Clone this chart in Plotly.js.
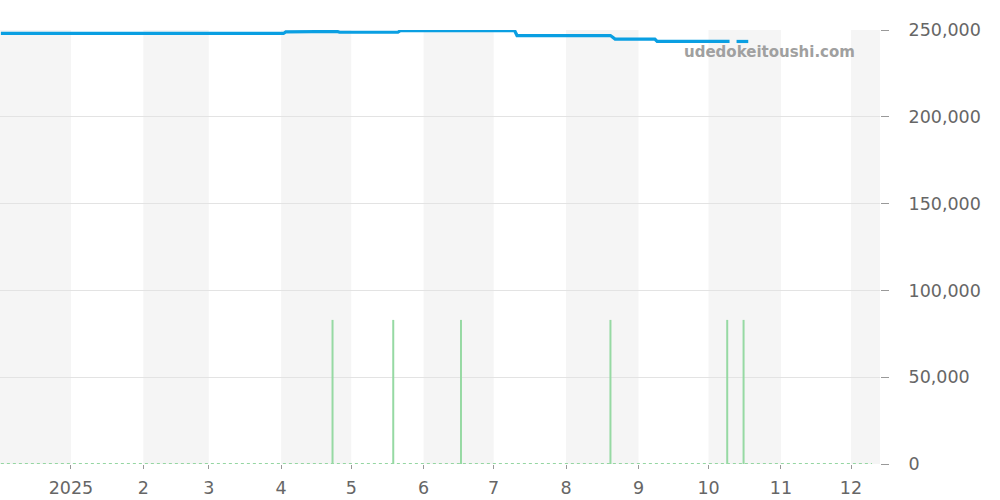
<!DOCTYPE html>
<html><head><meta charset="utf-8">
<script src="https://cdn.plot.ly/plotly-3.0.1.min.js"></script>
<style>body{margin:0;padding:0;background:#fff}#c{width:1000px;height:500px}</style>
</head><body><div id="c"></div>
<script>
// Price series (blue line)
const priceDates = ["2024-12-02","2025-04-02","2025-04-03","2025-04-24","2025-04-25","2025-04-26","2025-05-21","2025-05-22","2025-07-10","2025-07-11","2025-08-20","2025-08-22","2025-09-08","2025-09-09","2025-10-10","2025-10-11","2025-10-13","2025-10-18"];
const priceValues = [248000,248000,248900,248900,249200,248700,248700,249600,249600,246800,246800,244800,244800,243400,243400,null,243400,243400];

// Volume-like spikes (green)
const spikeDates = ["2025-04-23","2025-05-19","2025-06-17","2025-08-20","2025-10-09","2025-10-16"];
const spikeValues = [83000,83000,83000,83000,83000,83000];

// Baseline series (green dotted)
const baseDates = ["2024-12-02","2025-12-10"];
const baseValues = [0,0];

// Shaded month bands
const bandStarts = ["2024-11-01","2025-02-01","2025-04-01","2025-06-01","2025-08-01","2025-10-01","2025-12-01"];
const bandEnds   = ["2025-01-01","2025-03-01","2025-05-01","2025-07-01","2025-09-01","2025-11-01","2026-01-01"];

// X tick labels
const xTickVals = ["2025-01-01","2025-02-01","2025-03-01","2025-04-01","2025-05-01","2025-06-01","2025-07-01","2025-08-01","2025-09-01","2025-10-01","2025-11-01","2025-12-01"];
const xTickText = ["2025","2","3","4","5","6","7","8","9","10","11","12"];

// Y ticks
const yTickVals = [0,50000,100000,150000,200000,250000];
const yTickText = ["0","50,000","100,000","150,000","200,000","250,000"];

const spikeX = [], spikeY = [];
spikeDates.forEach((d,i)=>{ spikeX.push(d,d,null); spikeY.push(0,spikeValues[i],null); });

const traces = [
  {x: baseDates, y: baseValues, type:'scatter', mode:'lines', line:{color:'#95d6a2', width:2, dash:'dot'}, hoverinfo:'skip', showlegend:false},
  {x: spikeX, y: spikeY, type:'scatter', mode:'lines', line:{color:'#96d9a3', width:2}, hoverinfo:'skip', showlegend:false, connectgaps:false},
  {x: priceDates, y: priceValues, type:'scatter', mode:'lines', line:{color:'#0a9fe2', width:3.2}, connectgaps:false, showlegend:false}
];

const shapes = bandStarts.map((s,i)=>({type:'rect', xref:'x', yref:'paper', x0:s, x1:bandEnds[i], y0:0, y1:1, fillcolor:'#f5f5f5', line:{width:0}, layer:'below'}));

const layout = {
  width:1000, height:500,
  margin:{l:0, r:120, t:30, b:36},
  paper_bgcolor:'#fff', plot_bgcolor:'#fff',
  font:{family:'DejaVu Sans', color:'#666', size:17.5},
  shapes: shapes,
  xaxis:{type:'date', range:['2024-12-01 15:00','2025-12-13 10:00'], tickvals:xTickVals, ticktext:xTickText,
    showgrid:false, zeroline:false, ticks:'outside', ticklen:4, tickcolor:'#999', showline:false,
    ticklabelstandoff:4, tickfont:{size:17.5, color:'#666'}},
  yaxis:{side:'right', range:[0,250000], tickvals:yTickVals, ticktext:yTickText, showgrid:true, gridcolor:'#e3e3e3',
    zeroline:false, ticks:'outside', ticklen:8, tickcolor:'#999', showline:false, ticklabelstandoff:16,
    tickfont:{size:17.5, color:'#666'}},
  annotations:[{text:'udedokeitoushi.com', xref:'paper', yref:'paper', x:0.974, y:0.949, xanchor:'right', yanchor:'middle',
    showarrow:false, font:{family:'DejaVu Sans', size:15, color:'#a0a0a0', weight:'bold'}}]
};
Plotly.newPlot('c', traces, layout, {staticPlot:true, displayModeBar:false});
</script></body></html>
